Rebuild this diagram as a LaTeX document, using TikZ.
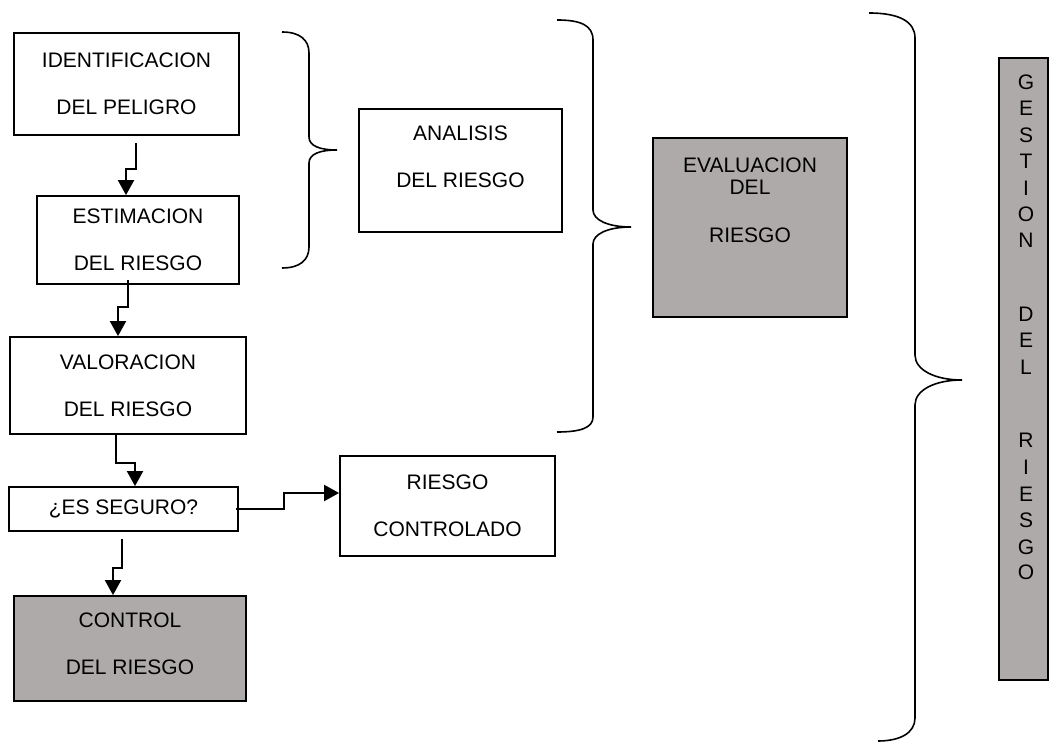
\documentclass[tikz,border=0pt]{standalone}
\usepackage{fontspec}
\setmainfont{Liberation Sans}
\usetikzlibrary{arrows.meta}
\definecolor{shadec}{HTML}{AEAAAA}

\begin{document}
\begin{tikzpicture}[x=0.5pt, y=-0.5pt, font=\fontsize{10.5}{12.5}\selectfont]
  \tikzset{
    riskbox/.style={draw, line width=0.9pt, inner sep=0pt, align=center},
    shadebox/.style={riskbox, fill=shadec},
    txt/.style={inner sep=0pt, align=center},
    flow/.style={line width=1pt, -{Triangle[length=7.5pt, width=8pt]}},
    brace/.style={line width=0.8pt},
    letter/.style={inner sep=0pt, font=\fontsize{10.5}{12}\selectfont}
  }
  \useasboundingbox (0,0) rectangle (1049,742);

  % left column
  \node[riskbox, minimum width=112.5pt, minimum height=51pt] (ident) at (126.5,84)
    {IDENTIFICACION\\[11pt]DEL PELIGRO};
  \node[riskbox, minimum width=101pt, minimum height=44pt] (estim) at (138,240)
    {ESTIMACION\\[11pt]DEL RIESGO};
  \node[riskbox, minimum width=118pt, minimum height=48.5pt] (valor) at (128,385.5)
    {VALORACION\\[11pt]DEL RIESGO};
  \node[riskbox, minimum width=114.5pt, minimum height=22pt] (seguro) at (123.5,509)
    {¿ES SEGURO?};
  \node[shadebox, minimum width=116pt, minimum height=52.5pt] (control) at (130,648.5) {};
  \node[txt] (control-t) at (130,643.5) {CONTROL\\[11pt]DEL RIESGO};
  \node[riskbox, minimum width=107.5pt, minimum height=50pt] (riesgoc) at (447.5,506)
    {RIESGO\\[11pt]CONTROLADO};

  % middle and right
  \node[riskbox, minimum width=101.5pt, minimum height=61.5pt] (analisis) at (460.5,170.5) {};
  \node[txt] (analisis-t) at (460.5,156.5) {ANALISIS\\[11pt]DEL RIESGO};
  \node[shadebox, minimum width=97pt, minimum height=89.5pt] (evalua) at (750,227.5) {};
  \node[txt] (evalua-t) at (750,200) {EVALUACION\\[-1.5pt]DEL\\[11.5pt]RIESGO};
  \node[shadebox, minimum width=24.5pt, minimum height=311pt] (gestion) at (1023.5,369) {};
  \foreach \ch/\yy [count=\i] in {G/82, E/108, S/135, T/161, I/188, O/214, N/240,
      D/314, E/340, L/367, R/440, I/467, E/494, S/520, G/547, O/572}
    \node[letter] (g\i) at (1026,\yy) {\ch};

  % connectors
  \draw[flow, shorten <=3.5pt] (136,0 |- ident.south) -- ++(0,33) -| (126,0 |- estim.north);
  \draw[flow, shorten <=-2.5pt] (128,0 |- estim.south) -- ++(0,22) -| (118,0 |- valor.north);
  \draw[flow] (116,0 |- valor.south) -- ++(0,28) -| (135,0 |- seguro.north);
  \draw[flow, shorten <=-1.5pt] (seguro.east) -- ++(45,0) |- (riesgoc.west |- 0,493);
  \draw[flow, shorten <=3.5pt] (122,0 |- seguro.south) -- ++(0,36) -| (113,0 |- control.north);

  % braces
  \draw[brace] (282,32) .. controls (300,32) and (309,40) .. (309,53) -- (309,137)
    .. controls (309,146) and (320,150) .. (337,150)
    .. controls (320,150) and (309,154) .. (309,163) -- (309,247)
    .. controls (309,260) and (300,268) .. (282,268);
  \draw[brace] (557,20) .. controls (580,20) and (593,25) .. (593,40) -- (593,210)
    .. controls (593,220) and (608,227) .. (631,227)
    .. controls (608,227) and (593,234) .. (593,244) -- (593,417)
    .. controls (593,428) and (580,432) .. (557,432);
  \draw[brace] (869,13) .. controls (900,13) and (915,22) .. (915,38) -- (915,355)
    .. controls (915,370) and (935,380) .. (962,380)
    .. controls (935,380) and (915,390) .. (915,405) -- (915,718)
    .. controls (915,733) and (900,741) .. (878,741);
\end{tikzpicture}
\end{document}
